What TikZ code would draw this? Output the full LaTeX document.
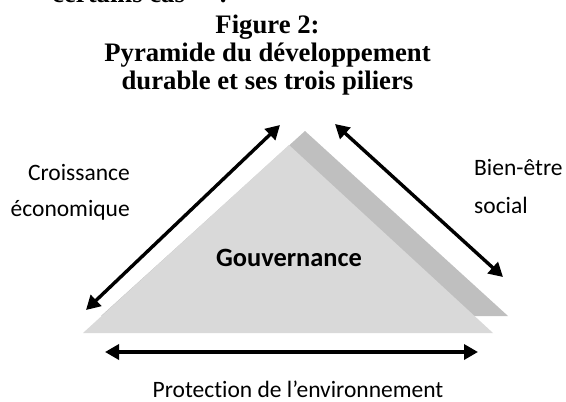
\documentclass[tikz,border=0pt]{standalone}
\usepackage{fontspec}
\setmainfont{Liberation Serif}
\newfontfamily\calibri[Ligatures=NoCommon]{Carlito}
\usepackage{tikz}
\usetikzlibrary{arrows.meta}

\definecolor{pyrfront}{HTML}{D9D9D9}
\definecolor{pyrback}{HTML}{BFBFBF}

\tikzset{
  pilier/.style={{Triangle[length=14pt,width=15pt]}-{Triangle[length=14pt,width=15pt]}, line width=3.4pt},
  libelle/.style={font=\calibri\fontsize{23.5}{28}\selectfont, inner sep=0pt},
  titre/.style={font=\bfseries\fontsize{26.7}{28}\selectfont, inner sep=0pt, anchor=base},
}

\begin{document}
\begin{tikzpicture}[x=1pt, y=-1pt]
    \useasboundingbox (0,0) rectangle (566,402);
    \clip (0,0) rectangle (566,402);

    \node[titre, anchor=base west] (suite) at (52,2.5) {certains cas\hspace{34pt}:};
    \node[titre] (fig) at (267.5,33) {Figure 2:};
    \node[titre] (pyr) at (267.5,61.5) {Pyramide du développement};
    \node[titre] (dur) at (267.5,89.5) {durable et ses trois piliers};

    % the pyramid and its shadow
    \fill[pyrback] (305,131) -- (508,316) -- (101,316) -- cycle;
    \fill[pyrfront] (289,145) -- (493,333) -- (83,333) -- cycle;
    \node[anchor=base, inner sep=0pt, font=\calibri\bfseries\fontsize{26.4}{30}\selectfont] (gouv) at (289,266) {Gouvernance};

    \coordinate (eco-bas) at (86,310);
    \coordinate (eco-haut) at (280,125);
    \coordinate (soc-haut) at (335,124);
    \coordinate (soc-bas) at (503,277);
    \coordinate (env-g) at (105,352);
    \coordinate (env-d) at (478,352);
    \draw[pilier] (eco-bas) -- (eco-haut);
    \draw[pilier] (soc-haut) -- (soc-bas);
    \draw[pilier] (env-g) -- (env-d);

    \node[libelle, anchor=base east] (croiss) at (130,180) {Croissance};
    \node[libelle, anchor=base east] (econ) at (130,216) {économique};
    \node[libelle, anchor=base west] (bien) at (474,175) {Bien-être};
    \node[libelle, anchor=base west] (soc) at (474,213) {social};
    \node[libelle, anchor=base] (envir) at (298,397) {Protection de l’environnement};
  \end{tikzpicture}
\end{document}
